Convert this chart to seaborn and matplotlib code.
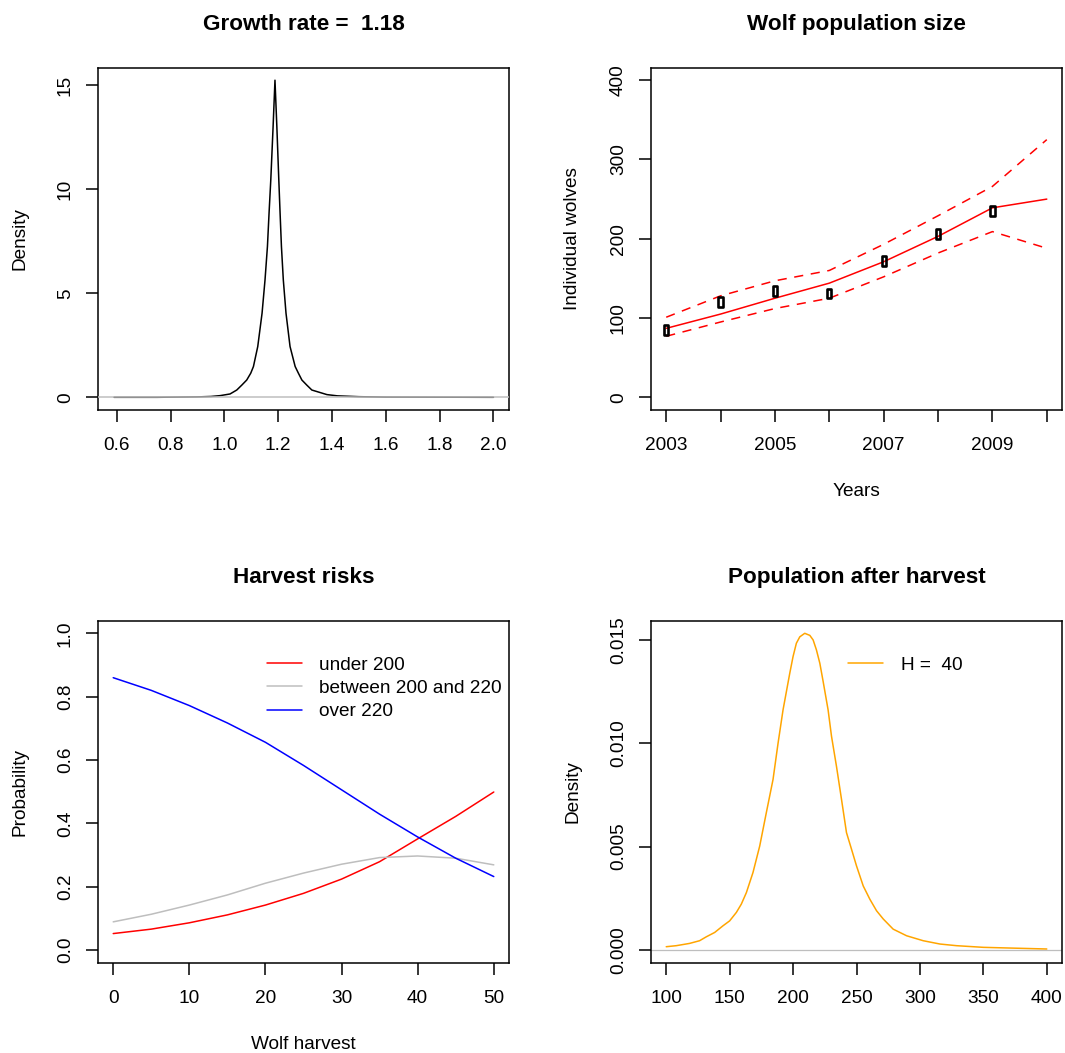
import matplotlib
matplotlib.use("Agg")
import numpy as np
import pandas as pd
import matplotlib.pyplot as plt
import seaborn as sns
from matplotlib.path import Path
from matplotlib.markers import MarkerStyle

# ---------------- data ----------------
# Panel 1: growth rate density
growth_x = [0.59, 0.75, 0.90, 0.95, 0.984, 1.021, 1.046, 1.065, 1.083, 1.098, 1.108, 1.124,
            1.140, 1.151, 1.160, 1.166, 1.1725, 1.181, 1.188, 1.195, 1.2022, 1.207, 1.212,
            1.219, 1.229, 1.244, 1.263, 1.275, 1.288, 1.306, 1.325, 1.381, 1.42, 1.5, 1.6,
            2.0]
growth_y = [0.0, 0.0, 0.02, 0.04, 0.08, 0.16, 0.35, 0.59, 0.83, 1.16, 1.48, 2.44,
            4.04, 5.64, 7.25, 8.85, 10.46, 13.0, 15.24, 13.0, 10.46, 8.85, 7.25,
            5.64, 4.04, 2.44, 1.48, 1.16, 0.83, 0.59, 0.35, 0.13, 0.07, 0.03, 0.01,
            0.0]
growth_rate_label = "1.18"

# Panel 2: wolf population size
years = [2003, 2004, 2005, 2006, 2007, 2008, 2009, 2010]
obs_years = [2003, 2004, 2005, 2006, 2007, 2008, 2009]
observed = [85, 120, 134, 131, 172, 206, 235]
fitted = [87, 105, 125, 144, 171, 203, 239, 250]
upper = [101, 128, 147, 160, 193, 229, 266, 325]
lower = [77, 95, 112, 125, 152, 182, 209, 188]
year_labels = ["2003", "", "2005", "", "2007", "", "2009", ""]

# Panel 3: harvest risks
harvest = [0, 5, 10, 15, 20, 25, 30, 35, 40, 45, 50]
under_200 = [0.052, 0.066, 0.086, 0.111, 0.142, 0.179, 0.224, 0.279, 0.351, 0.422, 0.499]
between_200_220 = [0.089, 0.113, 0.142, 0.174, 0.211, 0.243, 0.271, 0.292, 0.297, 0.290, 0.269]
over_220 = [0.860, 0.820, 0.772, 0.717, 0.656, 0.583, 0.506, 0.429, 0.357, 0.290, 0.232]
risk_labels = ["under 200", "between 200 and 220", "over 220"]

# Panel 4: population after harvest
post_x = [100, 107.9, 118.4, 126.3, 131.6, 138.2, 144.7, 150, 155.3, 159.2, 163.2, 168.4,
          173.7, 178.9, 184.2, 188.2, 192.1, 197.4, 200, 202.6, 205.3, 209.2, 213.2, 215.8,
          218.4, 221.1, 223.7, 227.6, 230.3, 234.2, 238.2, 242.1, 246.1, 250, 255.3, 260.5,
          265.8, 271.1, 278.9, 284.2, 289.5, 302.6, 315.8, 328.9, 350, 368.4, 400]
post_y = [0.00016, 0.00021, 0.00032, 0.00045, 0.00064, 0.00085, 0.00117, 0.00141, 0.00182,
          0.00222, 0.00278, 0.00375, 0.00503, 0.00664, 0.00825, 0.01002, 0.01162, 0.01339,
          0.01420, 0.01484, 0.01515, 0.01532, 0.01522, 0.01500, 0.01452, 0.01387, 0.01299,
          0.01162, 0.01034, 0.00889, 0.00728, 0.00568, 0.00487, 0.00407, 0.00310, 0.00246,
          0.00190, 0.00150, 0.00101, 0.00085, 0.00069, 0.00045, 0.00029, 0.00021, 0.00013,
          0.00010, 0.00005]
harvest_H = 40

# ---------------- style ----------------
sns.set_theme(style="ticks")
FS = 13.7
plt.rcParams.update({
    "font.family": ["Liberation Sans", "DejaVu Sans"],
    "font.size": FS,
    "axes.linewidth": 1.1,
    "axes.edgecolor": "black",
    "axes.labelcolor": "black",
    "text.color": "black",
    "xtick.color": "black",
    "ytick.color": "black",
    "xtick.labelsize": FS,
    "ytick.labelsize": FS,
    "xtick.major.size": 8.4,
    "ytick.major.size": 8.4,
    "xtick.major.width": 1.1,
    "ytick.major.width": 1.1,
    "xtick.major.pad": 11,
    "ytick.major.pad": 9,
    "xtick.direction": "out",
    "ytick.direction": "out",
    "axes.labelsize": FS,
})

W, H = 1065, 1053
fig = plt.figure(figsize=(W / 100, H / 100), dpi=100)


def axes_px(l, t, r, b):
    return fig.add_axes([l / W, 1 - b / H, (r - l) / W, (b - t) / H])


ax1 = axes_px(98, 67.5, 509, 410)
ax2 = axes_px(651, 67.5, 1062, 410)
ax3 = axes_px(98, 620.7, 509, 962.7)
ax4 = axes_px(651, 620.7, 1062, 962.7)

LW = 1.1
TITLE_KW = dict(fontweight="bold", fontsize=16.2, pad=27)


def finish(ax, xlabel, ylabel):
    for s in ax.spines.values():
        s.set_visible(True)
        s.set_color("black")
        s.set_linewidth(1.1)
    ax.set_xlabel(xlabel)
    ax.set_ylabel(ylabel)
    ax.xaxis.set_label_coords(0.5, -0.213)
    ax.yaxis.set_label_coords(-0.170, 0.5)
    for lbl in ax.get_yticklabels():
        lbl.set_rotation(90)
        lbl.set_va("center")


# ---- Panel 1 ----
sns.lineplot(x=growth_x, y=growth_y, color="black", linewidth=LW, estimator=None,
             sort=False, ax=ax1, zorder=2)
ax1.axhline(0, color="#BEBEBE", linewidth=LW, zorder=3)
ax1.set_xlim(0.587 - 0.0566, 2.001 + 0.0566)
ax1.set_ylim(-0.61, 15.85)
ax1.set_xticks([0.6, 0.8, 1.0, 1.2, 1.4, 1.6, 1.8, 2.0])
ax1.set_xticklabels(["0.6", "0.8", "1.0", "1.2", "1.4", "1.6", "1.8", "2.0"])
ax1.set_yticks([0, 5, 10, 15])
ax1.set_yticklabels(["0", "5", "10", "15"])
ax1.set_title(f"Growth rate =  {growth_rate_label}", **TITLE_KW)
finish(ax1, "", "Density")

# ---- Panel 2 ----
sns.lineplot(x=years, y=fitted, color="#FF0000", linewidth=LW, estimator=None, ax=ax2)
sns.lineplot(x=years, y=upper, color="#FF0000", linewidth=LW, estimator=None, ax=ax2,
             linestyle=(0, (6, 5)))
sns.lineplot(x=years, y=lower, color="#FF0000", linewidth=LW, estimator=None, ax=ax2,
             linestyle=(0, (6, 5)))
rect = MarkerStyle(Path([(-0.23, -0.5), (0.23, -0.5), (0.23, 0.5), (-0.23, 0.5), (-0.23, -0.5)],
                        [Path.MOVETO, Path.LINETO, Path.LINETO, Path.LINETO, Path.CLOSEPOLY]))
sns.scatterplot(x=obs_years, y=observed, marker=rect, s=46, facecolors="none",
                edgecolors="black", linewidths=1.9, ax=ax2, zorder=4)
ax2.set_xlim(2003 - 0.28, 2010 + 0.28)
ax2.set_ylim(-16, 416)
ax2.set_xticks(years)
ax2.set_xticklabels(year_labels)
ax2.set_yticks([0, 100, 200, 300, 400])
ax2.set_yticklabels(["0", "100", "200", "300", "400"])
ax2.set_title("Wolf population size", **TITLE_KW)
finish(ax2, "Years", "Individual wolves")

# ---- Panel 3 ----
sns.lineplot(x=harvest, y=under_200, color="#FF0000", linewidth=LW, estimator=None,
             label=risk_labels[0], ax=ax3)
sns.lineplot(x=harvest, y=between_200_220, color="#BEBEBE", linewidth=LW, estimator=None,
             label=risk_labels[1], ax=ax3)
sns.lineplot(x=harvest, y=over_220, color="#0000FF", linewidth=LW, estimator=None,
             label=risk_labels[2], ax=ax3)
ax3.set_xlim(-2, 52)
ax3.set_ylim(-0.04, 1.04)
ax3.set_xticks([0, 10, 20, 30, 40, 50])
ax3.set_xticklabels(["0", "10", "20", "30", "40", "50"])
ax3.set_yticks([0, 0.2, 0.4, 0.6, 0.8, 1.0])
ax3.set_yticklabels(["0.0", "0.2", "0.4", "0.6", "0.8", "1.0"])
ax3.legend(loc="upper left", bbox_to_anchor=(0.41, 0.896), frameon=False,
           borderaxespad=0, borderpad=0, handlelength=1.85, handletextpad=0.9,
           labelspacing=0.32, fontsize=FS)
ax3.set_title("Harvest risks", **TITLE_KW)
finish(ax3, "Wolf harvest", "Probability")

# ---- Panel 4 ----
sns.lineplot(x=post_x, y=post_y, color="#FFA500", linewidth=LW, estimator=None,
             label=f"H =  {harvest_H}", ax=ax4, zorder=3)
ax4.axhline(0, color="#BEBEBE", linewidth=0.9, zorder=2)
ax4.set_xlim(100 - 12, 400 + 12)
ax4.set_ylim(-0.000613, 0.01593)
ax4.set_xticks([100, 150, 200, 250, 300, 350, 400])
ax4.set_xticklabels(["100", "150", "200", "250", "300", "350", "400"])
ax4.set_yticks([0, 0.005, 0.010, 0.015])
ax4.set_yticklabels(["0.000", "0.005", "0.010", "0.015"])
ax4.legend(loc="upper left", bbox_to_anchor=(0.48, 0.896), frameon=False,
           borderaxespad=0, borderpad=0, handlelength=1.85, handletextpad=0.9,
           fontsize=FS)
ax4.set_title("Population after harvest", **TITLE_KW)
finish(ax4, "", "Density")

fig.savefig("out.png", dpi=100, facecolor="white")
